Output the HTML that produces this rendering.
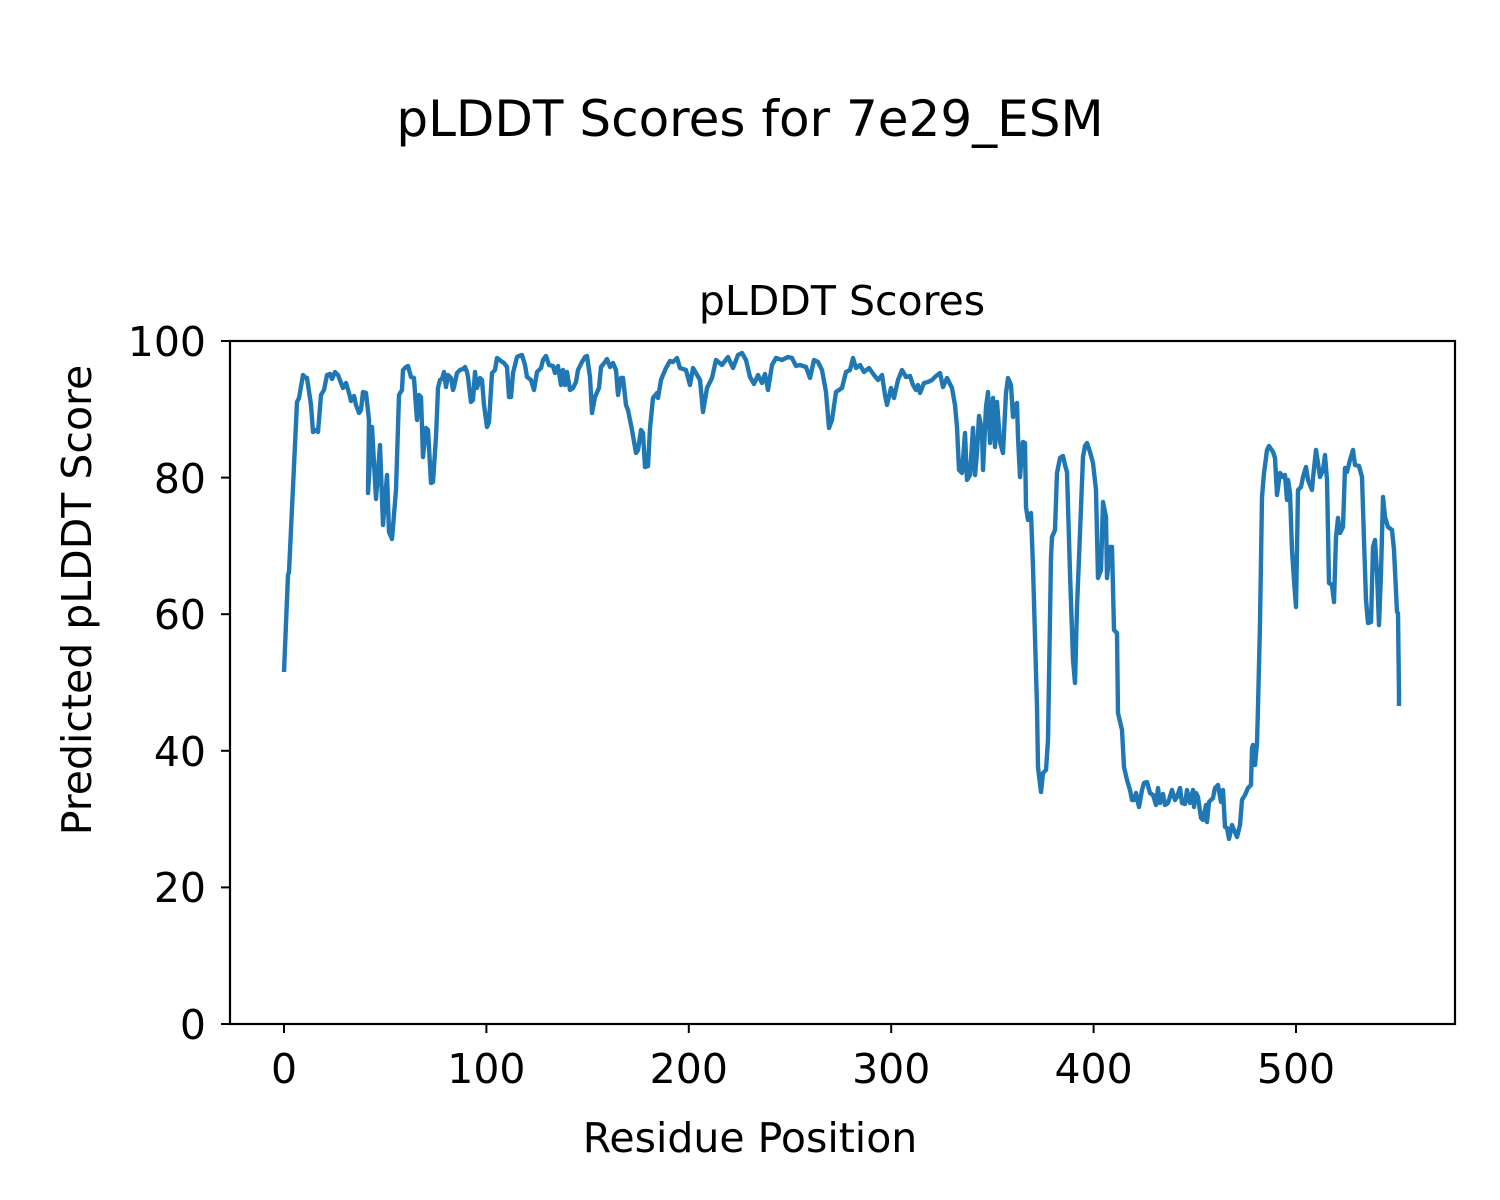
<!DOCTYPE html>
<html><head><meta charset="utf-8"><style>html,body{margin:0;padding:0;background:#fff}svg{display:block}</style></head>
<body>
<svg width="1500" height="1200" xmlns="http://www.w3.org/2000/svg" font-family="'DejaVu Sans','Liberation Sans',sans-serif">
<rect width="1500" height="1200" fill="#fff"/>
<text x="750" y="136" font-size="50" text-anchor="middle">pLDDT Scores for 7e29_ESM</text>
<text x="842" y="315" font-size="41" text-anchor="middle">pLDDT Scores</text>
<clipPath id="c"><rect x="230" y="341" width="1225" height="683"/></clipPath>
<polyline clip-path="url(#c)" fill="none" stroke="#1f77b4" stroke-width="4.4" stroke-linejoin="round" points="284,672 288,575 289,572 297,402 299,398 303,375 306,378 307,378 311,405 313,432 316,430 318,432 321,395 324,390 327,375 330,374 332,379 335,372 338,375 341,383 343,388 346,383 349,393 351,401 354,396 356,405 359,413 361,410 363,392 366,393 369,420 368,493 372,427 376,499 380,445 383,525 387,475 389,532 392,539 396,490 399,395 402,390 403,370 406,367 408,366 411,377 414,378 416,407 417,420 419,395 421,397 423,457 426,428 428,430 431,483 433,482 436,437 438,388 440,380 442,379 444,372 446,387 448,375 451,378 453,390 454,387 457,373 460,370 463,369 465,367 467,372 468,377 471,402 473,400 475,372 477,388 480,378 482,380 484,405 487,427 489,422 492,373 495,370 497,358 501,361 504,363 507,367 509,397 511,397 513,373 517,357 519,356 522,355 525,365 527,377 531,380 534,390 537,372 541,368 543,360 546,356 549,365 553,366 555,373 558,366 561,385 563,370 565,385 567,372 570,390 573,388 576,382 578,370 582,362 585,357 587,356 590,377 592,413 595,397 599,388 601,367 605,362 607,359 610,367 613,363 616,370 618,395 621,378 623,378 626,405 628,410 632,430 636,453 638,450 641,430 643,433 645,467 648,466 650,428 653,398 657,393 658,398 661,380 663,375 666,368 670,361 673,362 677,358 680,368 686,370 690,385 693,368 700,380 703,412 707,388 712,378 716,360 722,365 728,357 733,368 738,355 742,353 746,360 750,377 754,384 758,375 762,383 765,374 768,390 772,365 776,358 782,360 788,357 792,358 796,366 800,365 806,367 810,378 814,360 818,362 822,370 826,392 829,428 832,420 836,392 842,388 846,372 850,370 853,358 856,368 860,365 864,372 869,368 874,375 878,380 882,375 885,395 887,405 891,388 894,398 898,380 902,370 906,377 910,376 913,385 916,390 918,385 920,393 924,383 928,382 932,380 936,376 940,373 943,387 947,378 949,382 952,388 955,405 957,427 959,470 962,473 965,433 967,480 970,475 973,428 975,475 977,453 979,416 982,430 983,470 986,407 988,392 990,443 993,398 995,447 997,402 1000,442 1003,453 1006,393 1008,378 1011,385 1013,417 1015,405 1017,403 1018,437 1020,477 1023,442 1025,443 1026,507 1028,520 1031,513 1033,567 1037,707 1038,767 1041,792 1043,773 1046,770 1048,740 1051,557 1052,537 1055,530 1057,473 1060,458 1063,456 1065,465 1067,472 1070,573 1073,660 1075,683 1077,607 1080,533 1083,457 1085,446 1087,443 1090,452 1093,463 1096,490 1098,578 1101,570 1103,502 1106,517 1107,578 1110,547 1112,547 1114,630 1117,633 1118,713 1122,730 1124,767 1127,780 1130,790 1132,800 1134,800 1136,793 1139,807 1142,790 1144,783 1147,782 1150,793 1153,795 1156,805 1158,788 1160,803 1163,794 1165,805 1168,803 1172,790 1175,800 1177,797 1180,788 1182,803 1185,804 1187,790 1190,803 1193,790 1194,807 1196,793 1198,797 1201,818 1203,820 1206,805 1207,822 1209,802 1213,798 1215,788 1218,785 1221,802 1223,790 1225,827 1227,828 1229,839 1232,825 1234,830 1237,837 1240,825 1242,800 1245,795 1248,788 1251,785 1252,748 1253,745 1255,765 1257,743 1258,707 1260,623 1262,497 1264,473 1267,450 1269,446 1273,452 1275,458 1277,495 1280,473 1283,477 1285,475 1287,500 1288,480 1290,493 1292,550 1294,580 1296,607 1298,490 1301,487 1303,477 1306,467 1308,480 1312,490 1313,478 1316,450 1318,463 1320,477 1323,470 1325,455 1327,480 1329,583 1332,585 1334,602 1336,537 1338,518 1340,533 1343,527 1345,468 1347,472 1350,460 1353,450 1355,465 1359,466 1362,477 1364,540 1366,600 1368,623 1371,622 1373,547 1375,540 1377,573 1379,625 1381,573 1383,497 1385,517 1388,527 1392,530 1394,550 1397,612 1398,613 1399,695 1399,706"/>
<rect x="230" y="341" width="1225" height="683" fill="none" stroke="#000" stroke-width="2.2"/>
<g stroke="#000" stroke-width="2">
<line x1="221" y1="1024" x2="230" y2="1024"/><line x1="221" y1="887.4" x2="230" y2="887.4"/><line x1="221" y1="750.8" x2="230" y2="750.8"/><line x1="221" y1="614.2" x2="230" y2="614.2"/><line x1="221" y1="477.6" x2="230" y2="477.6"/><line x1="221" y1="341" x2="230" y2="341"/>
<line x1="284" y1="1024" x2="284" y2="1033"/><line x1="486.4" y1="1024" x2="486.4" y2="1033"/><line x1="688.8" y1="1024" x2="688.8" y2="1033"/><line x1="891.2" y1="1024" x2="891.2" y2="1033"/><line x1="1093.6" y1="1024" x2="1093.6" y2="1033"/><line x1="1296" y1="1024" x2="1296" y2="1033"/>
</g>
<g font-size="41" text-anchor="end">
<text x="206" y="1039">0</text><text x="206" y="902">20</text><text x="206" y="766">40</text><text x="206" y="629">60</text><text x="206" y="493">80</text><text x="206" y="356">100</text>
</g>
<g font-size="41" text-anchor="middle">
<text x="284" y="1083">0</text><text x="486.4" y="1083">100</text><text x="688.8" y="1083">200</text><text x="891.2" y="1083">300</text><text x="1093.6" y="1083">400</text><text x="1296" y="1083">500</text>
</g>
<text x="750" y="1152" font-size="41" text-anchor="middle">Residue Position</text>
<text transform="translate(91,600) rotate(-90)" font-size="41" text-anchor="middle">Predicted pLDDT Score</text>
</svg>
</body></html>
